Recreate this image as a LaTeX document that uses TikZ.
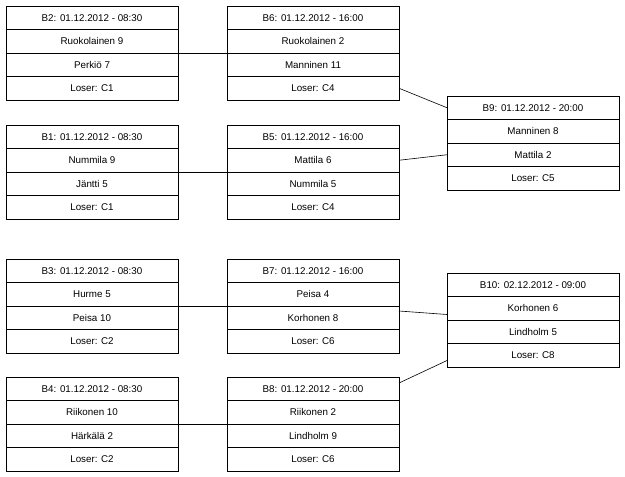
\documentclass[tikz,border=0pt]{standalone}
\usepackage{fontspec}
\setmainfont{Liberation Sans}
\usetikzlibrary{positioning}

% one game box: name, x, y, header, first, second, loser
\newcommand{\gamebox}[7]{%
  \node[cell, anchor=north west] (#1-1) at (#2,#3) {#4};
  \node[cell] (#1-2) [below=0pt of #1-1] {#5};
  \node[cell] (#1-3) [below=0pt of #1-2] {#6};
  \node[cell] (#1-4) [below=0pt of #1-3] {#7};
}

\begin{document}
\begin{tikzpicture}[x=1pt,y=-1pt,
    cell/.style={rectangle, draw, minimum width=172pt, minimum height=23.5pt,
                 inner sep=0pt, outer sep=0pt, line width=0.6pt,
                 font=\fontsize{9.8}{11}\selectfont},
    link/.style={draw, line width=0.6pt},
  ]
  \useasboundingbox (0,0) rectangle (625,477);
  %Games
  \gamebox{b2}{6}{6}{B2: 01.12.2012 - 08:30}{Ruokolainen 9}{Perkiö 7}{Loser: C1}
  \gamebox{b1}{6}{125}{B1: 01.12.2012 - 08:30}{Nummila 9}{Jäntti 5}{Loser: C1}
  \gamebox{b3}{6}{259}{B3: 01.12.2012 - 08:30}{Hurme 5}{Peisa 10}{Loser: C2}
  \gamebox{b4}{6}{377}{B4: 01.12.2012 - 08:30}{Riikonen 10}{Härkälä 2}{Loser: C2}
  \gamebox{b6}{227}{6}{B6: 01.12.2012 - 16:00}{Ruokolainen 2}{Manninen 11}{Loser: C4}
  \gamebox{b5}{227}{125}{B5: 01.12.2012 - 16:00}{Mattila 6}{Nummila 5}{Loser: C4}
  \gamebox{b7}{227}{259}{B7: 01.12.2012 - 16:00}{Peisa 4}{Korhonen 8}{Loser: C6}
  \gamebox{b8}{227}{377}{B8: 01.12.2012 - 20:00}{Riikonen 2}{Lindholm 9}{Loser: C6}
  \gamebox{b9}{447}{96}{B9: 01.12.2012 - 20:00}{Manninen 8}{Mattila 2}{Loser: C5}
  \gamebox{b10}{447}{273}{B10: 02.12.2012 - 09:00}{Korhonen 6}{Lindholm 5}{Loser: C8}

  %Lines
  \path[link] (b2-2.south east) -- (b6-2.south west);
  \path[link] (b1-2.south east) -- (b5-2.south west);
  \path[link] (b3-2.south east) -- (b7-2.south west);
  \path[link] (b4-2.south east) -- (b8-2.south west);
  \path[link] (b6-4.east) -- (b9-1.west);
  \path[link] (b5-2.east) -- (b9-3.west);
  \path[link] ([yshift=-5pt]b7-3.north east) -- ([yshift=-18pt]b10-2.north west);
  \path[link] ([yshift=-6pt]b8-1.north east) -- ([yshift=-17pt]b10-4.north west);
\end{tikzpicture}
\end{document}
